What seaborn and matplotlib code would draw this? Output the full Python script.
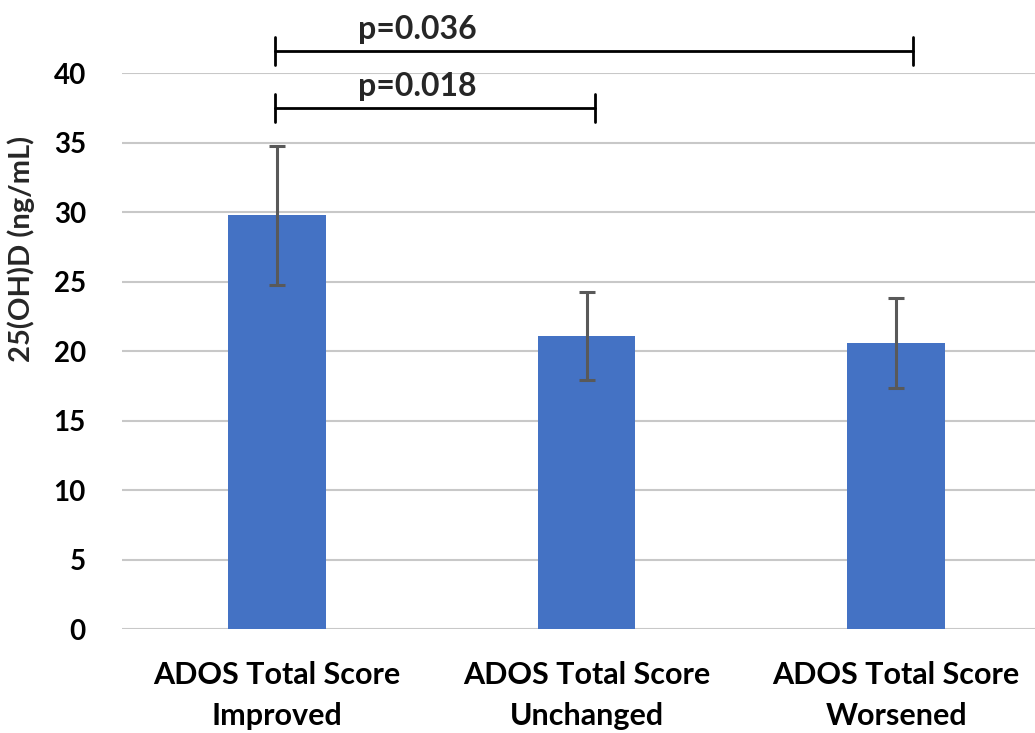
import matplotlib
matplotlib.use("Agg")
import matplotlib.pyplot as plt
import seaborn as sns
import pandas as pd

categories = ["ADOS Total Score\nImproved", "ADOS Total Score\nUnchanged", "ADOS Total Score\nWorsened"]
means = [29.8, 21.1, 20.6]
errors = [5.0, 3.15, 3.25]
y_ticks = [0, 5, 10, 15, 20, 25, 30, 35, 40]
ylabel = "25(OH)D (ng/mL)"
brackets = [(0, 2, 41.6, "p=0.036"), (0, 1, 37.5, "p=0.018")]

sns.set_theme(style="white")
plt.rcParams["font.family"] = ["Lato", "DejaVu Sans"]

fig = plt.figure(figsize=(10.35, 7.33), dpi=100)
ax = fig.add_axes([0.1179, 0.1415, 0.8976, 0.7585])

df = pd.DataFrame({"cat": categories, "val": means})
sns.barplot(data=df, x="cat", y="val", color="#4472C4", width=0.316,
            saturation=1, errorbar=None, linewidth=0, ax=ax, zorder=3)
ax.errorbar(range(len(means)), means, yerr=errors, fmt="none",
            ecolor="#595959", elinewidth=2.2, capsize=6, capthick=2.2, zorder=4)

ax.set_xlim(-0.5, 2.5)
ax.set_ylim(0, 40)
ax.set_yticks(y_ticks)
ax.set_yticklabels([str(t) for t in y_ticks], fontsize=20, fontweight="bold")
ax.set_xticklabels(categories, fontsize=22, fontweight="bold", linespacing=1.55)
ax.tick_params(axis="y", length=0, pad=26, colors="black")
ax.tick_params(axis="x", length=0, pad=23, colors="black")
ax.set_xlabel("")
ax.set_ylabel(ylabel, fontsize=21, fontweight="bold")
ax.yaxis.set_label_coords(-0.094, 0.684)

ax.grid(axis="y", color="#c8c8c8", linewidth=1.5, zorder=0)
ax.grid(axis="x", visible=False)
for s in ax.spines.values():
    s.set_visible(False)

for i0, i1, yb, txt in brackets:
    x0 = i0 - 0.006
    x1 = i1 + (0.055 if i1 == 2 else 0.027)
    ax.plot([x0, x1], [yb, yb], color="black", lw=2, clip_on=False, zorder=5)
    ax.plot([x0, x0], [yb - 1.0, yb + 1.0], color="black", lw=2, clip_on=False, zorder=5)
    ax.plot([x1, x1], [yb - 1.0, yb + 1.0], color="black", lw=2, clip_on=False, zorder=5)
    ax.text(0.452, yb + 0.9, txt, ha="center", va="baseline", fontsize=23,
            fontweight="bold", clip_on=False)

fig.savefig("out.png", dpi=100)
